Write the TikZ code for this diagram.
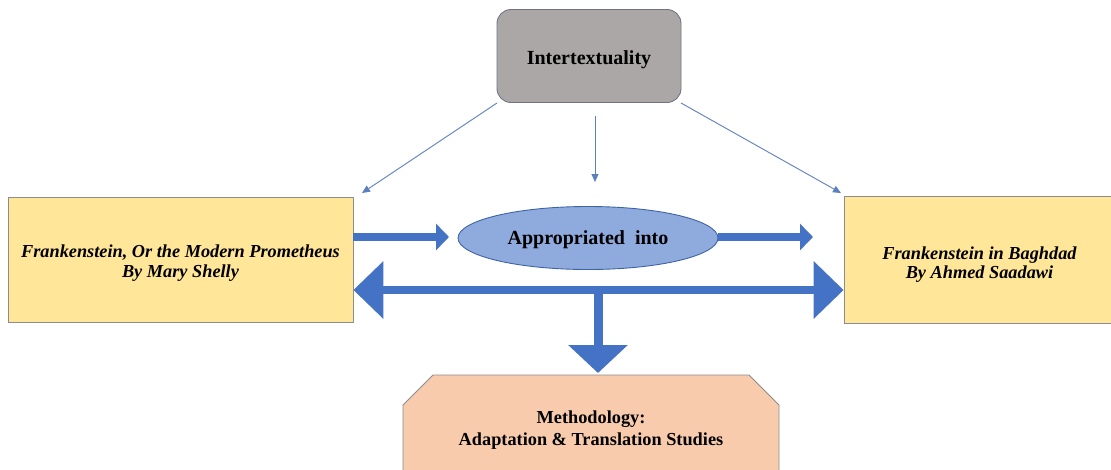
\documentclass[tikz,border=0pt]{standalone}
\usepackage{fontspec}
\setmainfont{Liberation Serif}
\usetikzlibrary{arrows.meta,shapes.geometric,shapes.misc}
\definecolor{grayfill}{HTML}{ABA7A6}
\definecolor{grayline}{HTML}{6E7585}
\definecolor{yellowfill}{HTML}{FFE699}
\definecolor{boxline}{HTML}{8C8C8C}
\definecolor{ellfill}{HTML}{8FAADC}
\definecolor{ellline}{HTML}{3E64A8}
\definecolor{arrowblue}{HTML}{4472C4}
\definecolor{thinblue}{HTML}{5B7FBF}
\definecolor{peach}{HTML}{F8CBAD}
\newcommand{\lowertext}[2]{\raisebox{-#1}[\height][\depth]{#2}}
\tikzset{
  thinarrow/.style={draw=thinblue, line width=0.9pt, -{Triangle[length=8pt,width=7pt]}},
  fatarrow/.style={draw=arrowblue, line width=8pt, -{Triangle[length=13pt,width=26pt]}},
  bigarrow/.style={draw=arrowblue, line width=8pt, {Triangle[length=30pt,width=56pt]}-{Triangle[length=30pt,width=56pt]}},
  downarrow/.style={draw=arrowblue, line width=9pt, -{Triangle[length=28pt,width=58pt]}},
  ybox/.style={draw=boxline, fill=yellowfill, line width=0.8pt, align=center, font=\fontsize{18.3}{21.5}\selectfont\bfseries\itshape, inner sep=0pt}
}
\begin{document}
\begin{tikzpicture}[x=1pt,y=-1pt]
\useasboundingbox (0,0) rectangle (1111,469);
% Intertextuality
\node[draw=grayline, fill=grayfill, rounded corners=14pt, line width=0.9pt, minimum width=184pt, minimum height=93pt, inner sep=0pt, font=\fontsize{20}{24}\selectfont\bfseries] (inter) at (589,56) {\lowertext{4pt}{Intertextuality}};
% left box
\node[ybox, minimum width=345pt, minimum height=125pt] (lbox) at (180.5,259.5) {\lowertext{4pt}{\begin{tabular}{c}Frankenstein, Or the Modern Prometheus\\[-1.5pt]By Mary Shelly\end{tabular}}};
% right box
\node[ybox, minimum width=271pt, minimum height=127pt] (rbox) at (979.5,259.5) {\lowertext{5pt}{\begin{tabular}{c}Frankenstein in Baghdad\\[-3pt]By Ahmed Saadawi\end{tabular}}};
% ellipse
\node[ellipse, draw=ellline, fill=ellfill, line width=0.9pt, minimum width=260pt, minimum height=63pt, inner sep=0pt, font=\fontsize{20}{24}\selectfont\bfseries] (ell) at (588,238) {\lowertext{1.5pt}{Appropriated\ \ into}};
% methodology
\node[chamfered rectangle, chamfered rectangle corners={north west,north east}, chamfered rectangle xsep=15pt, chamfered rectangle ysep=15pt, draw=boxline, fill=peach, line width=0.8pt, minimum width=376pt, minimum height=110pt, inner sep=0pt, font=\fontsize{18.3}{23}\selectfont\bfseries] (meth) at (591,430) {\lowertext{-0.5pt}{\begin{tabular}{c}Methodology:\\[-1pt]Adaptation \& Translation Studies\end{tabular}}};
% coordinates
\coordinate (tl) at (497,103);
\coordinate (tr) at (681,103);
\coordinate (tm) at (595,116);
\coordinate (al) at (362,193);
\coordinate (ar) at (841,193);
\coordinate (am) at (595,182);
\coordinate (a1) at (449,237);
\coordinate (a2) at (813,237);
\coordinate (split) at (598,290);
\coordinate (dtip) at (598,373);
% thin arrows
\draw[thinarrow] (tl) -- (al);
\draw[thinarrow] (tm) -- (am);
\draw[thinarrow] (tr) -- (ar);
% thick arrows
\draw[fatarrow] (lbox.east |- a1) -- (a1);
\draw[fatarrow] (ell.east |- a2) -- (a2);
\draw[bigarrow] (lbox.east |- split) -- (rbox.west |- split);
\draw[downarrow] (split) -- (dtip);
\end{tikzpicture}
\end{document}
